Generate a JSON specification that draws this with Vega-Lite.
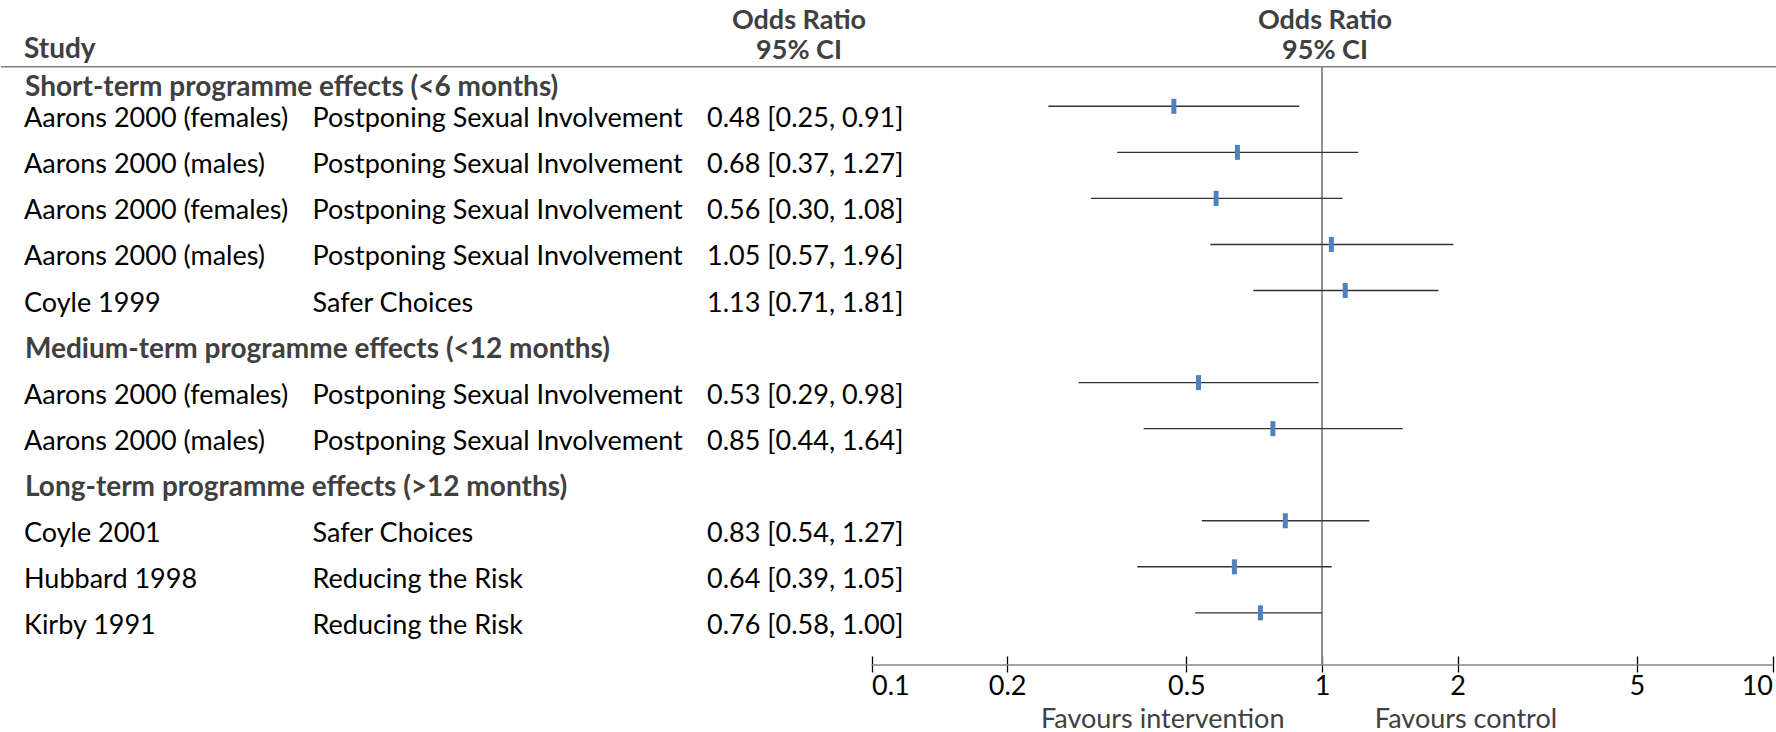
{
  "$schema": "https://vega.github.io/schema/vega-lite/v6.json",
  "width": 1776,
  "height": 665,
  "padding": 0,
  "background": "white",
  "config": {"view": {"stroke": null}, "font": "Lato"},
  "data": {
    "values": [
      {"row": 0, "kind": "section", "section": "Short-term programme effects (<6 months)"},
      {"row": 1, "kind": "study", "study": "Aarons 2000 (females)", "intervention": "Postponing Sexual Involvement", "ci": "0.48 [0.25, 0.91]", "est": 0.469, "lo": 0.247, "hi": 0.890},
      {"row": 2, "kind": "study", "study": "Aarons 2000 (males)", "intervention": "Postponing Sexual Involvement", "ci": "0.68 [0.37, 1.27]", "est": 0.649, "lo": 0.351, "hi": 1.204},
      {"row": 3, "kind": "study", "study": "Aarons 2000 (females)", "intervention": "Postponing Sexual Involvement", "ci": "0.56 [0.30, 1.08]", "est": 0.582, "lo": 0.307, "hi": 1.112},
      {"row": 4, "kind": "study", "study": "Aarons 2000 (males)", "intervention": "Postponing Sexual Involvement", "ci": "1.05 [0.57, 1.96]", "est": 1.049, "lo": 0.565, "hi": 1.956},
      {"row": 5, "kind": "study", "study": "Coyle 1999", "intervention": "Safer Choices", "ci": "1.13 [0.71, 1.81]", "est": 1.126, "lo": 0.704, "hi": 1.813},
      {"row": 6, "kind": "section", "section": "Medium-term programme effects (<12 months)"},
      {"row": 7, "kind": "study", "study": "Aarons 2000 (females)", "intervention": "Postponing Sexual Involvement", "ci": "0.53 [0.29, 0.98]", "est": 0.532, "lo": 0.288, "hi": 0.983},
      {"row": 8, "kind": "study", "study": "Aarons 2000 (males)", "intervention": "Postponing Sexual Involvement", "ci": "0.85 [0.44, 1.64]", "est": 0.778, "lo": 0.402, "hi": 1.511},
      {"row": 9, "kind": "section", "section": "Long-term programme effects (>12 months)"},
      {"row": 10, "kind": "study", "study": "Coyle 2001", "intervention": "Safer Choices", "ci": "0.83 [0.54, 1.27]", "est": 0.829, "lo": 0.541, "hi": 1.274},
      {"row": 11, "kind": "study", "study": "Hubbard 1998", "intervention": "Reducing the Risk", "ci": "0.64 [0.39, 1.05]", "est": 0.639, "lo": 0.389, "hi": 1.051},
      {"row": 12, "kind": "study", "study": "Kirby 1991", "intervention": "Reducing the Risk", "ci": "0.76 [0.58, 1.00]", "est": 0.730, "lo": 0.523, "hi": 1.0}
    ]
  },
  "resolve": {"scale": {"x": "independent"}},
  "layer": [
    {
      "data": {"values": [{}]},
      "mark": {"type": "rule", "color": "#7f7f7f", "strokeWidth": 1.6},
      "encoding": {
        "y": {"datum": 0.14, "type": "quantitative", "scale": {"domain": [-1.308, 13.132], "reverse": true, "zero": false, "nice": false}, "axis": null}
      }
    },
    {
      "data": {"values": [{}]},
      "mark": {"type": "rule", "color": "#868686", "strokeWidth": 1.8},
      "encoding": {
        "x": {"datum": 1, "type": "quantitative", "scale": {"type": "log", "domain": [0.1, 10], "range": [870.5, 1771.5], "nice": false}, "axis": null},
        "y": {"datum": 0.14, "type": "quantitative", "scale": {"domain": [-1.308, 13.132], "reverse": true, "zero": false, "nice": false}, "axis": null},
        "y2": {"datum": 13.132}
      }
    },
    {
      "data": {"values": [{}]},
      "mark": {"type": "rule", "color": "#868686", "strokeWidth": 1.6},
      "encoding": {
        "x": {"datum": 0.1, "type": "quantitative", "scale": {"type": "log", "domain": [0.1, 10], "range": [870.5, 1771.5], "nice": false}, "axis": null},
        "x2": {"datum": 10},
        "y": {"datum": 13.132, "type": "quantitative", "scale": {"domain": [-1.308, 13.132], "reverse": true, "zero": false, "nice": false}, "axis": null}
      }
    },
    {
      "transform": [{"filter": "datum.kind === 'study'"}],
      "mark": {"type": "rule", "color": "#333333", "strokeWidth": 1.4},
      "encoding": {
        "x": {"field": "lo", "type": "quantitative", "scale": {"type": "log", "domain": [0.1, 10], "range": [870.5, 1771.5], "nice": false}, "axis": null},
        "x2": {"field": "hi"},
        "y": {"field": "row", "type": "quantitative", "scale": {"domain": [-1.308, 13.132], "reverse": true, "zero": false, "nice": false}, "axis": null}
      }
    },
    {
      "transform": [{"filter": "datum.kind === 'study'"}],
      "mark": {"type": "tick", "orient": "vertical", "color": "#4F81BD", "thickness": 5, "size": 15, "opacity": 1},
      "encoding": {
        "x": {
          "field": "est", "type": "quantitative",
          "scale": {"type": "log", "domain": [0.1, 10], "range": [870.5, 1771.5], "nice": false},
          "axis": {"orient": "bottom", "values": [0.1, 0.2, 0.5, 1, 2, 5, 10], "format": "~g", "title": null, "domain": false, "grid": false, "offset": -9, "tickSize": 16, "tickColor": "#000000", "tickWidth": 1.3, "labelFont": "Lato", "labelFontSize": 27, "labelColor": "#000000", "labelPadding": 1, "labelFlush": true, "labelOverlap": false}
        },
        "y": {"field": "row", "type": "quantitative", "scale": {"domain": [-1.308, 13.132], "reverse": true, "zero": false, "nice": false}, "axis": null}
      }
    },
    {
      "data": {"values": [{}]},
      "mark": {"type": "text", "text": "Study", "align": "left", "baseline": "alphabetic", "font": "Lato", "fontSize": 28, "fontWeight": "bold", "color": "#404040", "dy": -2},
      "encoding": {
        "x": {"datum": "study", "type": "nominal", "scale": {"type": "point", "domain": ["study", "intervention", "ci"], "range": [23, 706], "padding": 0}, "axis": null},
        "y": {"datum": 0, "type": "quantitative", "scale": {"domain": [-1.308, 13.132], "reverse": true, "zero": false, "nice": false}, "axis": null}
      }
    },
    {
      "data": {"values": [{}]},
      "mark": {"type": "text", "text": "Odds Ratio", "align": "center", "baseline": "alphabetic", "font": "Lato", "fontSize": 27, "fontWeight": "bold", "color": "#404040", "dx": 92, "dy": -31},
      "encoding": {
        "x": {"datum": "ci", "type": "nominal", "scale": {"type": "point", "domain": ["study", "intervention", "ci"], "range": [23, 706], "padding": 0}, "axis": null},
        "y": {"datum": 0, "type": "quantitative", "scale": {"domain": [-1.308, 13.132], "reverse": true, "zero": false, "nice": false}, "axis": null}
      }
    },
    {
      "data": {"values": [{}]},
      "mark": {"type": "text", "text": "95% CI", "align": "center", "baseline": "alphabetic", "font": "Lato", "fontSize": 27, "fontWeight": "bold", "color": "#404040", "dx": 92, "dy": -1},
      "encoding": {
        "x": {"datum": "ci", "type": "nominal", "scale": {"type": "point", "domain": ["study", "intervention", "ci"], "range": [23, 706], "padding": 0}, "axis": null},
        "y": {"datum": 0, "type": "quantitative", "scale": {"domain": [-1.308, 13.132], "reverse": true, "zero": false, "nice": false}, "axis": null}
      }
    },
    {
      "transform": [{"filter": "datum.kind === 'section' && datum.row === 0"}],
      "mark": {"type": "text", "align": "left", "baseline": "alphabetic", "font": "Lato", "fontSize": 28, "fontWeight": "bold", "color": "#404040", "dx": 1, "dy": 36},
      "encoding": {
        "x": {"datum": "study", "type": "nominal", "scale": {"type": "point", "domain": ["study", "intervention", "ci"], "range": [23, 706], "padding": 0}, "axis": null},
        "y": {"field": "row", "type": "quantitative", "scale": {"domain": [-1.308, 13.132], "reverse": true, "zero": false, "nice": false}, "axis": null},
        "text": {"field": "section"}
      }
    },
    {
      "transform": [{"filter": "datum.kind === 'section' && datum.row > 0"}],
      "mark": {"type": "text", "align": "left", "baseline": "alphabetic", "font": "Lato", "fontSize": 28, "fontWeight": "bold", "color": "#404040", "dx": 1, "dy": 21},
      "encoding": {
        "x": {"datum": "study", "type": "nominal", "scale": {"type": "point", "domain": ["study", "intervention", "ci"], "range": [23, 706], "padding": 0}, "axis": null},
        "y": {"field": "row", "type": "quantitative", "scale": {"domain": [-1.308, 13.132], "reverse": true, "zero": false, "nice": false}, "axis": null},
        "text": {"field": "section"}
      }
    },
    {
      "transform": [{"filter": "datum.kind === 'study'"}],
      "mark": {"type": "text", "align": "left", "baseline": "alphabetic", "font": "Lato", "fontSize": 27, "color": "#000000", "dy": 21},
      "encoding": {
        "x": {"datum": "study", "type": "nominal", "scale": {"type": "point", "domain": ["study", "intervention", "ci"], "range": [23, 706], "padding": 0}, "axis": null},
        "y": {"field": "row", "type": "quantitative", "scale": {"domain": [-1.308, 13.132], "reverse": true, "zero": false, "nice": false}, "axis": null},
        "text": {"field": "study"}
      }
    },
    {
      "transform": [{"filter": "datum.kind === 'study'"}],
      "mark": {"type": "text", "align": "left", "baseline": "alphabetic", "font": "Lato", "fontSize": 27, "color": "#000000", "dx": -53, "dy": 21},
      "encoding": {
        "x": {"datum": "intervention", "type": "nominal", "scale": {"type": "point", "domain": ["study", "intervention", "ci"], "range": [23, 706], "padding": 0}, "axis": null},
        "y": {"field": "row", "type": "quantitative", "scale": {"domain": [-1.308, 13.132], "reverse": true, "zero": false, "nice": false}, "axis": null},
        "text": {"field": "intervention"}
      }
    },
    {
      "transform": [{"filter": "datum.kind === 'study'"}],
      "mark": {"type": "text", "align": "left", "baseline": "alphabetic", "font": "Lato", "fontSize": 27, "color": "#000000", "dy": 21},
      "encoding": {
        "x": {"datum": "ci", "type": "nominal", "scale": {"type": "point", "domain": ["study", "intervention", "ci"], "range": [23, 706], "padding": 0}, "axis": null},
        "y": {"field": "row", "type": "quantitative", "scale": {"domain": [-1.308, 13.132], "reverse": true, "zero": false, "nice": false}, "axis": null},
        "text": {"field": "ci"}
      }
    },
    {
      "data": {"values": [{}]},
      "mark": {"type": "text", "text": "Odds Ratio", "align": "center", "baseline": "alphabetic", "font": "Lato", "fontSize": 27, "fontWeight": "bold", "color": "#404040", "dx": 3, "dy": -31},
      "encoding": {
        "x": {"datum": 1, "type": "quantitative", "scale": {"type": "log", "domain": [0.1, 10], "range": [870.5, 1771.5], "nice": false}, "axis": null},
        "y": {"datum": 0, "type": "quantitative", "scale": {"domain": [-1.308, 13.132], "reverse": true, "zero": false, "nice": false}, "axis": null}
      }
    },
    {
      "data": {"values": [{}]},
      "mark": {"type": "text", "text": "95% CI", "align": "center", "baseline": "alphabetic", "font": "Lato", "fontSize": 27, "fontWeight": "bold", "color": "#404040", "dx": 3, "dy": -1},
      "encoding": {
        "x": {"datum": 1, "type": "quantitative", "scale": {"type": "log", "domain": [0.1, 10], "range": [870.5, 1771.5], "nice": false}, "axis": null},
        "y": {"datum": 0, "type": "quantitative", "scale": {"domain": [-1.308, 13.132], "reverse": true, "zero": false, "nice": false}, "axis": null}
      }
    },
    {
      "data": {"values": [{}]},
      "mark": {"type": "text", "text": "Favours intervention", "align": "center", "baseline": "alphabetic", "font": "Lato", "fontSize": 27, "color": "#404040", "dy": 63},
      "encoding": {
        "x": {"datum": 0.443, "type": "quantitative", "scale": {"type": "log", "domain": [0.1, 10], "range": [870.5, 1771.5], "nice": false}, "axis": null},
        "y": {"datum": 13.132, "type": "quantitative", "scale": {"domain": [-1.308, 13.132], "reverse": true, "zero": false, "nice": false}, "axis": null}
      }
    },
    {
      "data": {"values": [{}]},
      "mark": {"type": "text", "text": "Favours control", "align": "center", "baseline": "alphabetic", "font": "Lato", "fontSize": 27, "color": "#404040", "dy": 63},
      "encoding": {
        "x": {"datum": 2.087, "type": "quantitative", "scale": {"type": "log", "domain": [0.1, 10], "range": [870.5, 1771.5], "nice": false}, "axis": null},
        "y": {"datum": 13.132, "type": "quantitative", "scale": {"domain": [-1.308, 13.132], "reverse": true, "zero": false, "nice": false}, "axis": null}
      }
    }
  ]
}
